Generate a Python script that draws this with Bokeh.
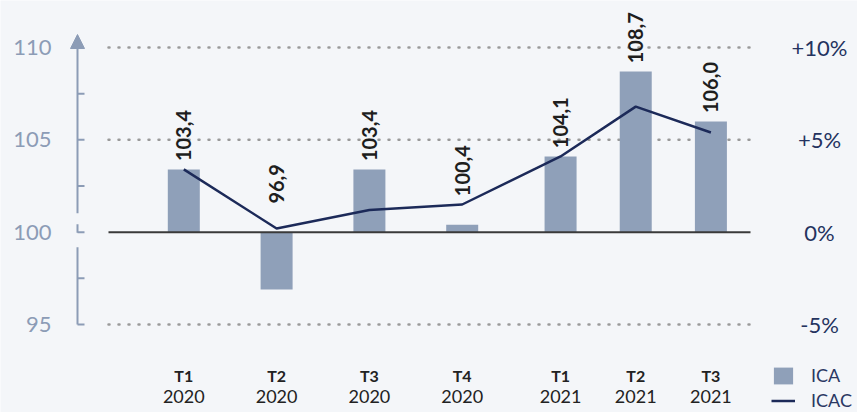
import numpy as np
from bokeh.plotting import figure
from bokeh.models import (Range1d, Arrow, NormalHead, Legend, LegendItem, ColumnDataSource)
from bokeh.core.properties import value
from bokeh.embed import file_html
from bokeh.resources import INLINE

# ---------------- data ----------------
quarters = ["T1", "T2", "T3", "T4", "T1", "T2", "T3"]
years = ["2020", "2020", "2020", "2020", "2021", "2021", "2021"]
ica = [103.4, 96.9, 103.4, 100.4, 104.1, 108.7, 106.0]
icac = [3.4, 0.2, 1.2, 1.5, 4.1, 6.8, 5.4]
left_ticks = [95, 100, 105, 110]
left_tick_labels = ["95", "100", "105", "110"]
left_minor = [97.5, 102.5, 105, 107.5]
pct_ticks = [-5, 0, 5, 10]
pct_labels = ["-5%", "0%", "+5%", "+10%"]

# ---------------- layout / style ----------------
BG = "#f4f6f9"
FONT = "Lato"
BAR = "#8fa0b9"
NAVY = "#1c2a59"
AXIS_C = "#8c9cb6"
W, H = 857, 412
PPX, PPY = 92.8, 18.467               # pixels per data unit
ORIGIN_SX, ORIGIN_SY = 183.3, 231.7   # canvas px of x=0 and y=100
X0 = -ORIGIN_SX / PPX
X1 = (W - ORIGIN_SX) / PPX
Y1 = 100 + ORIGIN_SY / PPY
Y0 = 100 - (H - ORIGIN_SY) / PPY


def xd(sx):
    return X0 + sx / PPX


def yd(sy):
    return Y1 - sy / PPY


# x slot of each quarter, from year group and quarter index
GROUP_START = {"2020": 0.0, "2021": 4.06}
GROUP_STEP = {"2020": 1.0, "2021": 0.81}
xpos = [GROUP_START[y] + GROUP_STEP[y] * (int(q[1]) - 1) for q, y in zip(quarters, years)]

labels = [f"{v:.1f}".replace(".", ",") for v in ica]
label_y = [max(v, 100 + c) + (0.45 if v >= 100 else 1.35) for v, c in zip(ica, icac)]

src = ColumnDataSource(dict(x=xpos, ica=ica, icac=icac, label=labels, label_y=label_y,
                            q=quarters, yr=years))

p = figure(width=W, height=H, x_range=Range1d(X0, X1), y_range=Range1d(Y0, Y1),
           output_backend="svg", toolbar_location=None,
           x_axis_location=None, y_axis_location=None,
           min_border=0, background_fill_color=BG, border_fill_color=BG,
           outline_line_color=None)
p.xgrid.visible = False
p.ygrid.visible = False
p.extra_y_ranges = {"pct": Range1d(Y0 - 100, Y1 - 100)}

# dotted grid lines
gx0, gx1 = xd(108), xd(750)
grid_y = [t for t in left_ticks if t != 100]
p.segment(x0=[gx0] * len(grid_y), x1=[gx1] * len(grid_y), y0=grid_y, y1=grid_y,
          line_color="#9a9a9a", line_width=2.5, line_dash="1 9", line_cap="round")

# bars
bars = p.vbar(x="x", bottom=100, top="ica", width=32 / PPX, fill_color=BAR,
              line_color=None, source=src)

# baseline at 100
p.segment(x0=[gx0], x1=[gx1], y0=[100], y1=[100], line_color="#3a3a3a", line_width=2)

# custom left axis with break
ax_x = xd(77)
tick_x = xd(84)
p.segment(x0=[ax_x, ax_x], x1=[ax_x, ax_x], y0=[95, 100 - 0.03],
          y1=[100 - 15 / PPY, 100 + 8 / PPY], line_color=AXIS_C, line_width=2)
ticks_all = sorted(left_minor + [95, 100])
p.segment(x0=[ax_x] * len(ticks_all), x1=[tick_x] * len(ticks_all), y0=ticks_all, y1=ticks_all,
          line_color=AXIS_C, line_width=2)
p.add_layout(Arrow(x_start=ax_x, y_start=100 + 19 / PPY, x_end=ax_x, y_end=110 + 13 / PPY,
                   line_color=AXIS_C, line_width=2,
                   end=NormalHead(size=14, fill_color=AXIS_C, line_color=AXIS_C)))

# left tick labels
p.text(x=[xd(51)] * len(left_ticks), y=left_ticks, text=left_tick_labels,
       text_align="right", text_baseline="middle", text_font=value(FONT),
       text_font_size="22px", text_color=AXIS_C)

# right tick labels (percent scale)
p.text(x=[xd(819)] * len(pct_ticks), y=pct_ticks, text=pct_labels, y_range_name="pct",
       text_align="center", text_baseline="middle", text_font=value(FONT),
       text_font_size="22px", text_color="#24335f")

# category labels
p.text(x="x", y=yd(375), text="q", text_align="center", text_baseline="middle",
       text_font=value(FONT), text_font_style="bold", text_font_size="16px",
       text_color="#222222", source=src)
p.text(x="x", y=yd(396), text="yr", text_align="center", text_baseline="middle",
       text_font=value(FONT), text_font_size="18px", text_color="#222222", source=src)

# ICAC line
line = p.line(x="x", y="icac", y_range_name="pct", line_width=2.5, line_color=NAVY, source=src)

# value labels
p.text(x="x", y="label_y", text="label", angle=np.pi / 2, text_align="left",
       text_baseline="middle", text_font=value(FONT), text_font_style="bold",
       text_font_size="20px", text_color="#1e1e1e", source=src)

legend = Legend(items=[LegendItem(label="ICA", renderers=[bars]),
                       LegendItem(label="ICAC", renderers=[line])],
                location=(771, 1), orientation="vertical",
                glyph_width=24, glyph_height=21, label_standoff=16, spacing=3,
                padding=0, margin=0, border_line_color=None, background_fill_alpha=0,
                label_text_font=FONT, label_text_font_size="18px",
                label_text_color="#2a3863")
p.add_layout(legend)

html = file_html(p, INLINE)
open("out.html", "w").write(html)
